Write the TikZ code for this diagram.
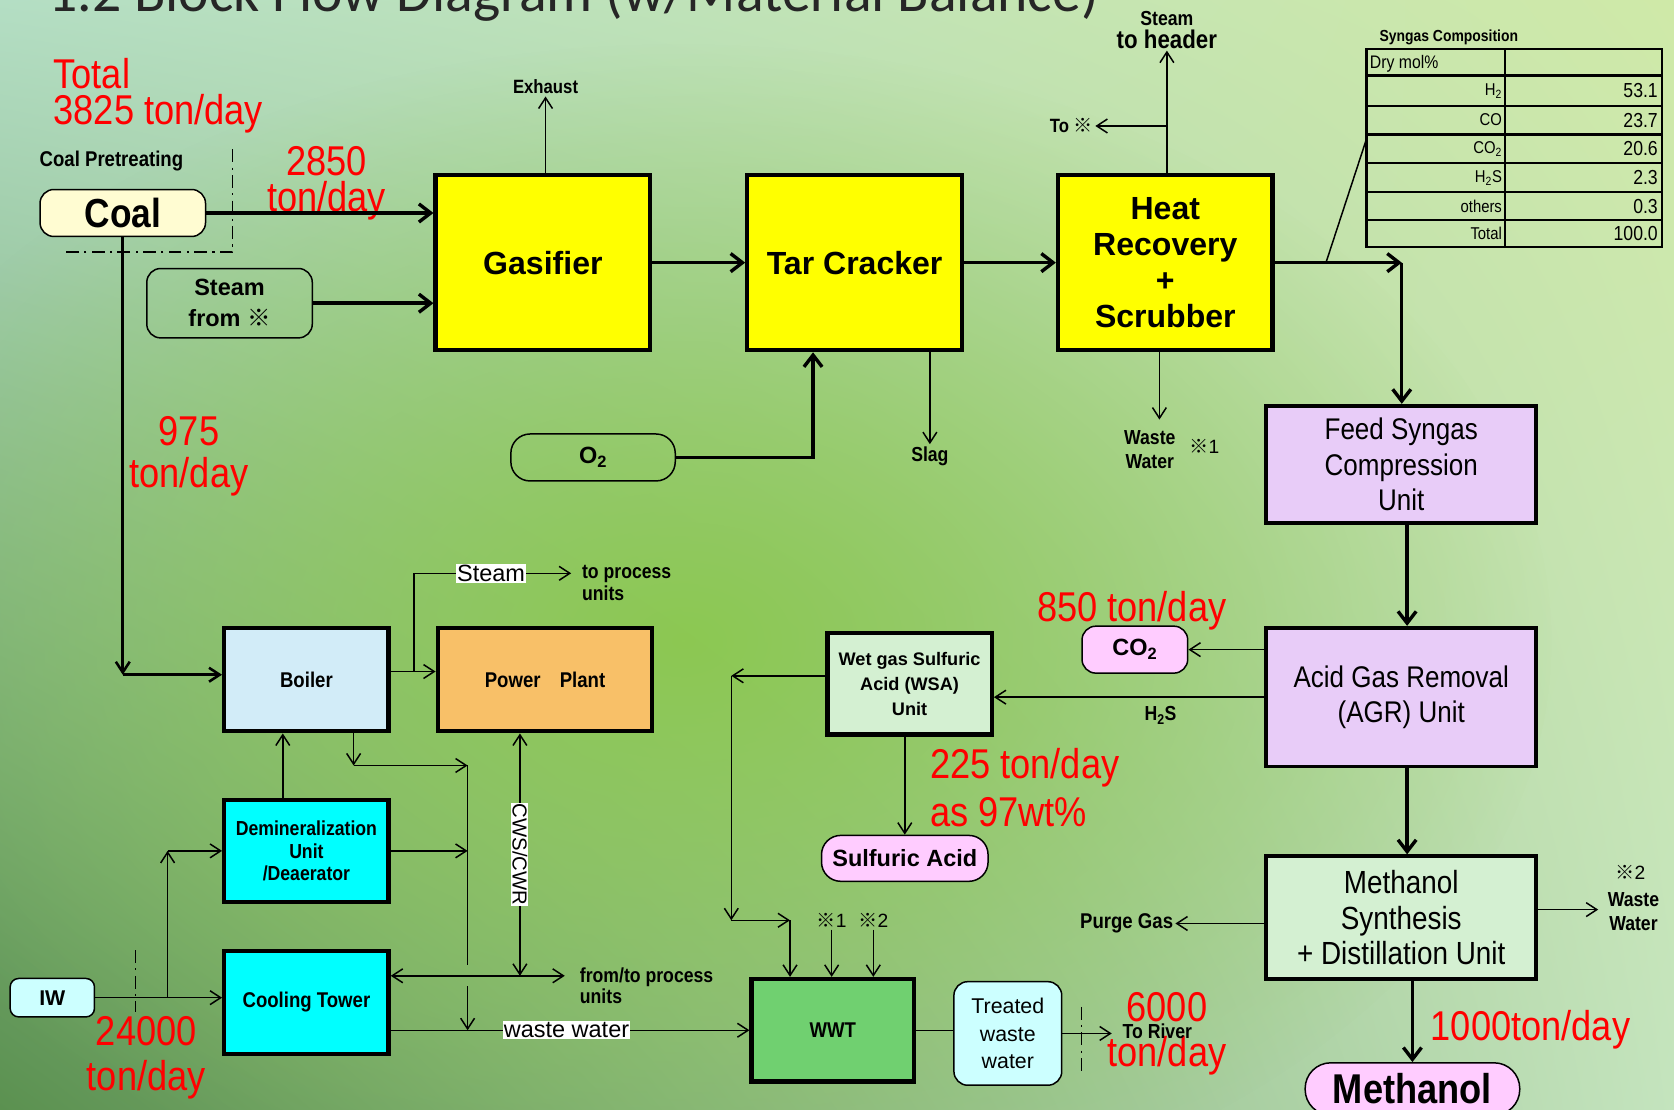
\documentclass[tikz,border=0pt]{standalone}
\usepackage{fontspec}
\setmainfont{Liberation Sans}
\newfontfamily\nar[FakeStretch=0.87]{Liberation Sans}
\newfontfamily\jpf{Noto Sans CJK JP}
\newfontfamily\ttlf{Carlito}
\usetikzlibrary{arrows.meta,calc,fadings,shadings}

\definecolor{bgul}{HTML}{B4DEC4}
\definecolor{bgur}{HTML}{CFE9A8}
\definecolor{bgll}{HTML}{5B9150}
\definecolor{bglr}{HTML}{C4E4BE}
\definecolor{bgmid}{HTML}{8CC852}
\definecolor{ttlgray}{HTML}{262626}
\definecolor{procyel}{HTML}{FFFF00}
\definecolor{lav}{HTML}{E8CCF8}
\definecolor{palegrn}{HTML}{D4F0D2}
\definecolor{pinkf}{HTML}{FFCCFF}
\definecolor{cyanl}{HTML}{CCFFFF}
\definecolor{cyanbox}{HTML}{00FFFF}
\definecolor{coalfill}{HTML}{FFFCD2}
\definecolor{boilblue}{HTML}{D2ECF8}
\definecolor{powor}{HTML}{F8C068}
\definecolor{wwtgrn}{HTML}{70D070}

\newcommand\fsz[2]{\fontsize{#1}{#2}\selectfont}
\newcommand\kome{{\jpf ※}}

\tikzfading[name=midfade, inner color=transparent!0, outer color=transparent!100]

\begin{document}
\begin{tikzpicture}[x=1pt,y=-1pt,
  >={Straight Barb[length=10pt,width=13pt]},
  unit/.style={draw=black, line width=4pt, inner sep=0pt, align=center},
  yel/.style={unit, fill=procyel, minimum width=201pt, minimum height=164pt, font=\bfseries\fsz{30}{34}},
  term/.style={draw=black, line width=1.4pt, rounded corners=13pt, inner sep=0pt, align=center},
  flow/.style={line width=3.2pt, >={Straight Barb[length=11pt,width=17pt]}},
  aux/.style={line width=1.4pt},
  redlbl/.style={text=red, inner sep=0pt, font=\nar\fsz{39}{40}},
  lbl/.style={inner sep=2pt, align=center, font=\nar\bfseries\fsz{19}{21}},
  wlbl/.style={fill=white, inner sep=1pt, font=\fsz{22}{24}},
  bound/.style={line width=1.4pt, dash pattern=on 12pt off 5pt on 2pt off 5pt}]

\useasboundingbox (0,0) rectangle (1568,1039);

%% background
\shade[upper left=bgul, upper right=bgur, lower left=bgll, lower right=bglr] (0,0) rectangle (1568,1039);
\fill[bgmid, path fading=midfade] (640,600) ellipse [x radius=820, y radius=560];

%% title, cut at the top edge
\node[anchor=base west, inner sep=0pt, text=ttlgray, font=\ttlf\fsz{54}{60}] (title) at (45,11) {1.2 Block Flow Diagram (w/Material Balance)};

%% gasification train
\node[yel] (gasifier) at (508.5,246) {Gasifier};
\node[yel] (tar) at (800.5,246) {Tar Cracker};
\node[yel] (hrs) at (1091.5,246) {Heat\\Recovery\\+\\Scrubber};

\node[term, fill=coalfill, minimum width=155pt, minimum height=44pt, font=\nar\bfseries\fsz{38}{40}] (coal) at (115,199.5) {Coal};
\node[term, minimum width=155pt, minimum height=65pt, font=\bfseries\fsz{22}{29}] (steamin) at (215,284) {Steam\\from \kome};
\node[term, minimum width=154pt, minimum height=44pt, rounded corners=18pt, font=\bfseries\fsz{22}{24}] (o2) at (555.5,428.5) {O\textsubscript{2}};

%% gas cleaning and methanol
\node[unit, line width=3.5pt, fill=lav, minimum width=253pt, minimum height=110pt, font=\nar\fsz{28}{33}] (feed) at (1312.5,435) {Feed Syngas\\Compression\\Unit};
\node[unit, line width=3.5pt, fill=lav, minimum width=253pt, minimum height=130pt, font=\nar\fsz{28}{33}] (agr) at (1312.5,653) {Acid Gas Removal\\(AGR) Unit};
\node[unit, line width=3.5pt, fill=palegrn, minimum width=253pt, minimum height=115pt, font=\nar\fsz{30}{33}] (msd) at (1312.5,859.5) {Methanol\\Synthesis\\+ Distillation Unit};
\node[term, fill=pinkf, minimum width=99pt, minimum height=44pt, font=\bfseries\fsz{22}{24}] (co2) at (1063,608.5) {CO\textsubscript{2}};
\node[unit, fill=palegrn, minimum width=154pt, minimum height=95pt, font=\bfseries\fsz{17}{23.5}] (wsa) at (852,640.5) {Wet gas Sulfuric\\Acid (WSA)\\Unit};
\node[term, fill=pinkf, minimum width=156pt, minimum height=43pt, rounded corners=18pt, font=\bfseries\fsz{22}{24}] (sulf) at (847.5,804) {Sulfuric Acid};
\node[unit, fill=wwtgrn, minimum width=152pt, minimum height=96pt, font=\nar\bfseries\fsz{20}{22}] (wwt) at (780,965) {WWT};
\node[term, fill=cyanl, minimum width=101pt, minimum height=97pt, font=\fsz{20}{26}] (tww) at (944,968) {Treated\\waste\\water};
\node[term, fill=pinkf, minimum width=201pt, minimum height=49pt, rounded corners=24pt, font=\nar\bfseries\fsz{39}{40}] (meoh) at (1323,1020) {Methanol};

%% utilities
\node[unit, fill=boilblue, minimum width=154pt, minimum height=97pt, font=\nar\bfseries\fsz{20}{22}] (boiler) at (287,636.5) {Boiler};
\node[unit, fill=powor, minimum width=201pt, minimum height=97pt, font=\nar\bfseries\fsz{20}{22}] (power) at (510.5,636.5) {Power\hspace{18pt}Plant};
\node[unit, fill=cyanbox, minimum width=154pt, minimum height=96pt, font=\nar\bfseries\fsz{19}{21}] (demin) at (287,797) {Demineralization\\Unit\\/Deaerator};
\node[unit, fill=cyanbox, minimum width=154pt, minimum height=96pt, font=\nar\bfseries\fsz{20}{22}] (cool) at (287,939) {Cooling Tower};
\node[term, fill=cyanl, minimum width=79pt, minimum height=36pt, rounded corners=8pt, font=\bfseries\fsz{20}{22}] (iw) at (49,934.5) {IW};

%% flow rates
\node[redlbl, anchor=base west] (tot1) at (50,83) {Total};
\node[redlbl, anchor=base west] (tot2) at (50,117) {3825 ton/day};
\node[redlbl, anchor=base] (r2850a) at (306,164) {2850};
\node[redlbl, anchor=base] (r2850b) at (306,198) {ton/day};
\node[redlbl, anchor=base] (r975a) at (177,417) {975};
\node[redlbl, anchor=base] (r975b) at (177,457) {ton/day};
\node[redlbl, anchor=base] (r850) at (1060,582) {850 ton/day};
\node[redlbl, anchor=base west] (r225a) at (871,729) {225 ton/day};
\node[redlbl, anchor=base west] (r225b) at (871,774) {as 97wt\%};
\node[redlbl, anchor=base] (r24a) at (137,979) {24000};
\node[redlbl, anchor=base] (r24b) at (137,1021) {ton/day};
\node[redlbl, anchor=base] (r6a) at (1093,957) {6000};
\node[redlbl, anchor=base] (r6b) at (1093,999) {ton/day};
\node[redlbl, anchor=base west] (r1000) at (1340,975) {1000ton/day};

%% stream labels
\node[lbl, anchor=base west, font=\nar\bfseries\fsz{20}{22}] (pretreat) at (35,156) {Coal Pretreating};
\node[lbl, anchor=base, font=\nar\bfseries\fsz{18}{20}] (exhaust) at (511,88) {Exhaust};
\node[lbl, anchor=base, font=\nar\bfseries\fsz{19}{20}] (hdr1) at (1093,24) {Steam};
\node[lbl, anchor=base, font=\nar\bfseries\fsz{24}{26}] (hdr2) at (1093,45) {to header};
\node[lbl, anchor=east, font=\nar\bfseries\fsz{18}{20}] (tox) at (1026,118) {To \kome};
\node[lbl, anchor=base] (slag) at (871,432) {Slag};
\node[lbl, anchor=base] (ww1a) at (1077,416) {Waste};
\node[lbl, anchor=base] (ww1b) at (1077,439) {Water};
\node[lbl, font=\fsz{18}{20}] (ww1c) at (1128,418) {\kome1};
\node[lbl, anchor=base] (h2s) at (1087,675) {H\textsubscript{2}S};
\node[lbl, anchor=east, font=\nar\bfseries\fsz{20}{22}] (purge) at (1101,865) {Purge Gas};
\node[lbl, font=\fsz{18}{20}] (ww2a) at (1527,817) {\kome2};
\node[lbl, anchor=base] (ww2b) at (1530,849) {Waste};
\node[lbl, anchor=base] (ww2c) at (1530,872) {Water};
\node[lbl, anchor=base] (river) at (1084,973) {To River};
\node[lbl, anchor=base west] (prc1) at (543,542) {to process};
\node[lbl, anchor=base west] (prc2) at (543,562) {units};
\node[lbl, anchor=base west] (ft1) at (541,920) {from/to process};
\node[lbl, anchor=base west] (ft2) at (541,940) {units};
\node[wlbl] (stm) at (460,537) {Steam};
\node[lbl, font=\fsz{18}{20}] (k1) at (779,862) {\kome1};
\node[lbl, font=\fsz{18}{20}] (k2) at (818,862) {\kome2};

%% syngas table
\node[lbl, anchor=base west, font=\nar\bfseries\fsz{15}{16}] (syntitle) at (1290,39) {Syngas Composition};
\coordinate (tbl) at (1280,130);
\draw[line width=2pt] (1280,46) rectangle (1557,231);
\draw[line width=3pt] (1280,71) -- (1557,71);
\foreach \yy in {99,126,153,180,206}
  \draw[line width=2pt] (1280,\yy) -- (1557,\yy);
\draw[line width=2pt] (1410,46) -- (1410,231);
\node[anchor=west, inner sep=0pt, font=\nar\fsz{17}{18}] (drymol) at (1283,60) {Dry mol\%};
\foreach \yy/\nm/\vv in {85/H\textsubscript{2}/53.1, 112.5/CO/23.7, 139.5/CO\textsubscript{2}/20.6,
    166.5/H\textsubscript{2}S/2.3, 193/others/0.3, 218.5/Total/100.0}{
  \node[anchor=east, inner sep=0pt, font=\nar\fsz{16}{17}] at (1407,\yy) {\nm};
  \node[anchor=east, inner sep=0pt, font=\nar\fsz{19}{20}] at (1553,\yy) {\vv};
}

%% main train connectors
\draw[flow,->] (coal.east) -- (coal.east -| gasifier.west);
\draw[flow,->] (steamin.east) -- (steamin.east -| gasifier.west);
\draw[flow,->] (gasifier.east) -- (tar.west);
\draw[flow,->] (tar.east) -- (hrs.west);
\coordinate (sgc) at (1313,246);
\coordinate (trunk) at (1318,0);
\draw[flow,->] (hrs.east) -- (sgc);
\draw[flow,->] (sgc) -- (feed.north -| sgc);
\draw[flow,->] (feed.south -| trunk) -- (agr.north -| trunk);
\draw[flow,->] (agr.south -| trunk) -- (msd.north -| trunk);
\draw[flow,->] (msd.south -| meoh.north) -- (meoh.north);
\draw[flow,->] (o2.east) -| ($(tar.south west)!.31!(tar.south east)$);
\draw[aux] (1242,246) -- (tbl); %% leader to table

\draw[aux,->] (gasifier.north -| exhaust) -- (exhaust.south);
\draw[aux,->] (hrs.north -| hdr2) -- (hdr2.south);
\draw[aux,->] (hdr2 |- tox.east) -- (tox.east);
\draw[aux,->] (tar.south -| slag) -- (slag.north);
\coordinate (ww1t) at (1086,393);
\draw[aux,->] (hrs.south -| ww1t) -- (ww1t);

%% gas cleaning connectors
\draw[aux,->] (agr.west |- co2.east) -- (co2.east);
\draw[aux,->] (agr.west) -- (agr.west -| wsa.east);
\draw[aux,->] (wsa.south -| sulf.north) -- (sulf.north);
\coordinate (wl) at (685,633);
\coordinate (wwin) at (740,862);
\draw[aux,->] (wsa.west |- wl) -- (wl);
\draw[aux,->] (wl) -- (wl |- wwin);
\draw[aux,->] (wl |- wwin) -- (wwin);
\draw[aux,->] (wwin) -- (wwin |- wwt.north);
\draw[aux,->] (k1.south) -- (k1.south |- wwt.north);
\draw[aux,->] (k2.south) -- (k2.south |- wwt.north);
\draw[aux] (wwt.east) -- (wwt.east -| tww.west);
\draw[aux,->, shorten >=8pt] (tww.east) -- (tww.east -| river.west);
\draw[bound] (1013,943) -- (1013,1003);
\draw[aux,->] (msd.west |- purge.east) -- (purge.east);
\coordinate (ww2t) at (1497,852);
\draw[aux,->] (msd.east |- ww2t) -- (ww2t);

%% coal pretreating boundary
\draw[bound] (218,140) |- (60,236);

%% utility connectors
\coordinate (cb) at (115,632);
\draw[line width=2.4pt,->] (coal.south) -- (cb);
\draw[line width=2.4pt,->] (cb) -- (cb -| boiler.west);
\coordinate (bp) at (388,629);
\draw[aux,->] (boiler.east |- bp) -- (bp -| power.west);
\draw[aux] (bp) |- (stm.west);
\draw[aux,->, shorten >=8pt] (stm.east) -- (stm.east -| prc1.west);
\draw[aux,->] ($(demin.north west)!.36!(demin.north east)$) coordinate (dmb) -- (dmb |- boiler.south);
\coordinate (vl) at (438,717);
\coordinate (gap1) at (438,904);
\coordinate (gap2) at (438,924);
\draw[aux,->] ($(boiler.south west)!.78!(boiler.south east)$) coordinate (bd0) -- (bd0 |- vl);
\draw[aux,->] (bd0 |- vl) -- (vl);
\draw[aux] (vl) -- (gap1);
\draw[aux,->] (gap2) -- (gap2 |- wwt.west);
\draw[aux,->] (demin.east) -- (demin.east -| vl);

\coordinate (iwb) at (157,934.5);
\draw[aux,->] (iw.east) -- (iw.east -| cool.west);
\draw[aux,->] (iwb) -- (iwb |- demin.west);
\draw[aux,->] (iwb |- demin.west) -- (demin.west);
\draw[bound] (127,890) -- (127,948);

\coordinate (cws) at (487,914);
\draw[aux,<->, shorten >=12pt] (cool.east |- cws) -- (cws -| ft1.west);
\draw[aux,<->] (power.south -| cws) -- (cws)
  node[midway, rotate=-90, fill=white, inner sep=1pt, font=\fsz{19}{20}] (cwsl) {CWS/CWR};
\draw[aux,->] (cool.east |- wwt.west) -- (wwt.west)
  node[wlbl, pos=.49] (wwl) {waste water};

\end{tikzpicture}
\end{document}
